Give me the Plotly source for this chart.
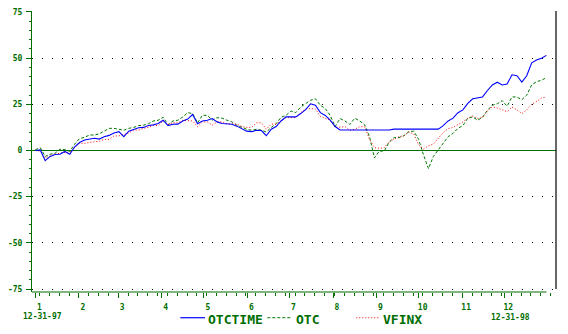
import plotly.graph_objects as go
import pandas as pd

# ---------------- data (percent change since 12-31-97) ----------------
dates = pd.date_range("1998-01-01", periods=105, freq="84h")

otctime = [0, 0.3, -5.5, -3.2, -2.2, -2, -0.5, -2, 2, 4.3,
           5.7, 6, 6.6, 6.2, 7.5, 8.2, 9.5, 10.2, 7.5, 10.5,
           11.4, 12.3, 12.5, 13.5, 13.9, 14.6, 16.4, 13.5, 14.2, 14.3,
           16, 17, 19.5, 14.5, 16, 16.4, 17.3, 15.5, 14.6, 14.6,
           14.2, 13.2, 12, 10.5, 10.2, 11, 10.8, 8, 11.5, 13,
           16, 18.2, 18.2, 18.2, 20, 22.1, 25.3, 24.5, 20.5, 19,
           16.4, 13, 11.1, 11.1, 11.1, 11.1, 11.1, 11.1, 11.1, 11.1,
           11.1, 11.1, 11.1, 11.6, 11.6, 11.6, 11.6, 11.6, 11.6, 11.6,
           11.6, 11.6, 11.6, 13.5, 16, 17.5, 20.5, 22, 25.5, 28,
           28.4, 29, 32.5, 35.5, 37, 35.5, 36, 41, 40.5, 37,
           40.5, 47.5, 49, 50, 51.5]

otc = [0.5, 1.5, -3.2, -2, -1.5, 0.7, 0.5, -0.5, 3.5, 6.5,
       7.1, 8.4, 8.4, 9, 10.5, 12, 12, 11.4, 11, 12,
       12.5, 13.5, 13.7, 14.5, 16, 16.4, 18, 14, 16, 16.4,
       18.2, 20.5, 20, 15, 19.1, 19, 16.5, 17.8, 17.5, 16.4,
       15.5, 13.7, 12.5, 11.5, 11, 11.5, 11, 10, 12.5, 14.5,
       18, 19, 21.4, 20.5, 23.6, 25.5, 27.2, 28, 24.5, 22.7,
       19, 13, 17.3, 16, 14.1, 17.5, 16, 14, 7.5, -4,
       -0.3, -0.3, 4.5, 7, 7, 8, 10.2, 10.5, 6, -2.5,
       -9.8, -3.2, 0.4, 4.2, 7.5, 9.3, 12, 13.5, 17.5, 18.2,
       16.4, 18, 21.8, 24.5, 25.3, 27, 24, 29, 29, 27.5,
       30, 35.5, 37.3, 38, 39.5]

vfinx = [0, -0.3, -4, -3, -2, -1.5, -1, -1, 1.5, 3.9,
         3.9, 4.5, 4.8, 5, 6, 6, 7.9, 7.9, 8.5, 9.5,
         11, 11.1, 12, 12.5, 13.5, 13.5, 16, 14, 15, 15,
         16.4, 16.4, 16, 12.9, 15.5, 15.5, 13.7, 15.5, 15.5, 14.5,
         14.3, 14.3, 13, 12.5, 12.5, 15, 15, 11.5, 14.3, 14.3,
         16, 17.8, 17.8, 17.8, 20.5, 22.5, 22.7, 22.5, 18.5, 17.5,
         16.4, 12.5, 12.5, 12.9, 11, 11.5, 12.9, 12.9, 6, 1.5,
         1.2, 1.5, 4.8, 6, 7.5, 8, 10, 9, 3, 0.8,
         2.5, 3.5, 6.6, 9.8, 11.8, 12.5, 14, 15.5, 17.5, 18.7,
         17.3, 18, 21.5, 23.6, 23, 21.8, 21, 23.5, 22, 20,
         22, 25, 26.5, 28.5, 28.9]

series_names = ["OTCTIME", "OTC", "VFINX"]
month_ticks = pd.date_range("1998-01-01", periods=12, freq="MS")
month_labels = [str(m) for m in range(1, 13)]
y_ticks = [75, 50, 25, 0, -25, -50, -75]
y_labels = ["75", "50", "25", "0", "-25", "-50", "-75"]
start_label = "12-31-97"
end_label = "12-31-98"

# ---------------- layout geometry ----------------
W, H = 568, 334
L, R, T, B = 26, 12, 8, 42
PW, PH = W - L - R, H - T - B
PX_PER_DAY = 1.42
origin = pd.Timestamp("1997-12-31")
x_left = origin - pd.Timedelta(days=2 / PX_PER_DAY)
x_right = x_left + pd.Timedelta(days=PW / PX_PER_DAY)
PX_PER_UNIT = 280 / 150
y_top = 75 + 1 / PX_PER_UNIT
y_bot = -75 - 3 / PX_PER_UNIT

GREEN = "#006e00"
BLUE = "#0000ff"
RED = "#ff0000"
LGREEN = "#007800"
MONO = "DejaVu Sans Mono"


def px(xp):
    return (xp - L) / PW


def py(yp):
    return (H - B - yp) / PH


fig = go.Figure()
fig.add_trace(go.Scatter(x=dates, y=otc, mode="lines", name=series_names[1],
                         line=dict(color=LGREEN, width=1, dash="3px,2px")))
fig.add_trace(go.Scatter(x=dates, y=vfinx, mode="lines", name=series_names[2],
                         line=dict(color=RED, width=1, dash="1px,2px")))
fig.add_trace(go.Scatter(x=dates, y=otctime, mode="lines", name=series_names[0],
                         line=dict(color=BLUE, width=1.1)))

tickfont = dict(family=MONO, size=8, color=GREEN, weight="bold")

fig.update_layout(
    width=W, height=H,
    margin=dict(l=L, r=R, t=T, b=B, pad=0),
    paper_bgcolor="white", plot_bgcolor="white",
    showlegend=False,
    xaxis=dict(
        type="date", range=[x_left, x_right],
        showgrid=False, zeroline=False, showline=False,
        tickvals=month_ticks, ticktext=month_labels,
        ticks="outside", ticklen=5, tickcolor=GREEN, tickwidth=1,
        ticklabelshift=4, ticklabelstandoff=2,
        tickfont=tickfont,
        minor=dict(ticks="outside", ticklen=3, tickcolor=GREEN, tickwidth=1,
                   dtick=7 * 86400000, tick0="1998-01-04", showgrid=False),
    ),
    yaxis=dict(
        range=[y_bot, y_top],
        tickvals=y_ticks, ticktext=y_labels,
        ticks="outside", ticklen=5, tickcolor=GREEN, tickwidth=1,
        tickfont=tickfont, ticklabelstandoff=2,
        showline=True, linecolor=GREEN, linewidth=1,
        showgrid=True, gridcolor="black", gridwidth=1, griddash="1px,9px",
        zeroline=True, zerolinecolor=GREEN, zerolinewidth=1,
        minor=dict(ticks="outside", ticklen=2, tickcolor=GREEN, tickwidth=1,
                   dtick=5, tick0=0, showgrid=False),
    ),
)

shapes = []
# bottom axis line
shapes.append(dict(type="line", xref="x", yref="paper",
                   x0=x_left - pd.Timedelta(days=3 / PX_PER_DAY),
                   x1=pd.Timestamp("1998-12-31"), y0=0, y1=0,
                   line=dict(color=GREEN, width=1.2)))
# right edge line
shapes.append(dict(type="line", xref="paper", yref="y", x0=1, x1=1,
                   y0=-75, y1=75.5, line=dict(color="black", width=1.2)))
# legend samples
shapes.append(dict(type="line", xref="paper", yref="paper",
                   x0=px(176), x1=px(201), y0=py(318), y1=py(318),
                   line=dict(color=BLUE, width=1.2)))
shapes.append(dict(type="line", xref="paper", yref="paper",
                   x0=px(264), x1=px(289), y0=py(318), y1=py(318),
                   line=dict(color=LGREEN, width=1, dash="3px,2px")))
shapes.append(dict(type="line", xref="paper", yref="paper",
                   x0=px(354), x1=px(377), y0=py(318), y1=py(318),
                   line=dict(color=RED, width=1, dash="1px,2px")))
fig.update_layout(shapes=shapes)

legfont = dict(family=MONO, size=13, color=GREEN, weight="bold")
ann = [
    dict(text=series_names[0], x=px(202), y=py(320), xanchor="left", yanchor="middle",
         font=legfont),
    dict(text=series_names[1], x=px(291), y=py(320), xanchor="left", yanchor="middle",
         font=legfont),
    dict(text=series_names[2], x=px(379), y=py(320), xanchor="left", yanchor="middle",
         font=legfont),
    dict(text=start_label, x=px(37), y=py(316.5), xanchor="center", yanchor="middle",
         font=tickfont),
    dict(text=end_label, x=px(509.5), y=py(318), xanchor="center", yanchor="middle",
         font=tickfont),
]
for a in ann:
    a.update(xref="paper", yref="paper", showarrow=False)
fig.update_layout(annotations=ann)

fig.write_html("out.html")
